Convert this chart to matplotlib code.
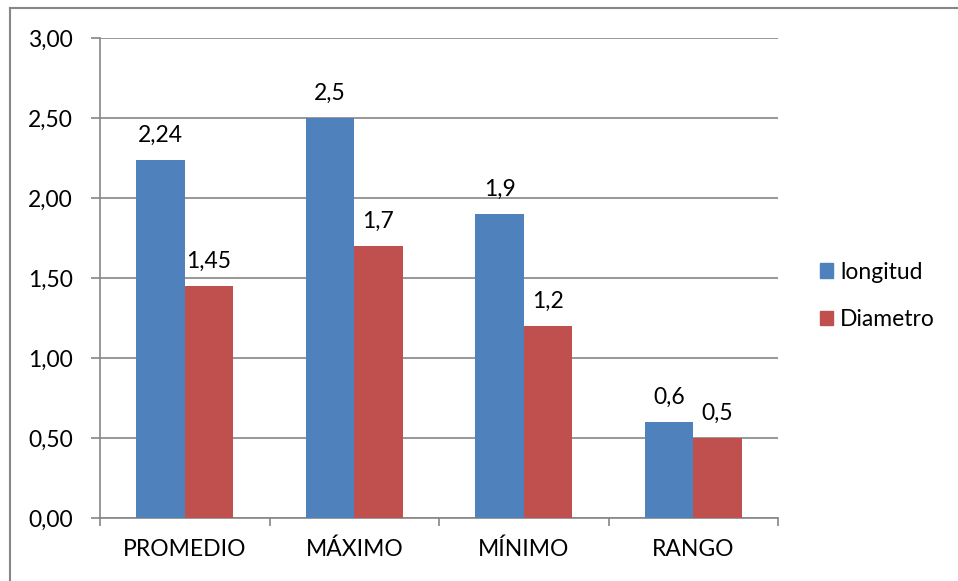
import numpy as np
import matplotlib.pyplot as plt
from matplotlib.patches import Patch
from matplotlib.lines import Line2D

categorias = ["PROMEDIO", "MÁXIMO", "MÍNIMO", "RANGO"]
longitud = [2.24, 2.5, 1.9, 0.6]
diametro = [1.45, 1.7, 1.2, 0.5]
etiq_longitud = ["2,24", "2,5", "1,9", "0,6"]
etiq_diametro = ["1,45", "1,7", "1,2", "0,5"]
y_ticks = [0, 0.5, 1.0, 1.5, 2.0, 2.5, 3.0]
y_labels = ["0,00", "0,50", "1,00", "1,50", "2,00", "2,50", "3,00"]

plt.rcParams['font.family'] = ['Lato', 'DejaVu Sans']
azul = "#4F81BD"
rojo = "#C0504D"
gris = "#868686"

W, H = 958, 581
fig = plt.figure(figsize=(W / 100, H / 100), dpi=100)
ax = fig.add_axes([100 / W, 1 - 518 / H, 678 / W, 480 / H])

x = np.arange(len(categorias))
bw = 1 / 3.5
ax.bar(x - bw / 2, longitud, bw, color=azul, zorder=3)
ax.bar(x + bw / 2, diametro, bw, color=rojo, zorder=3)

fs = 16.5
for xi, v, t in zip(x, longitud, etiq_longitud):
    ax.annotate(t, (xi - bw / 2, v), xytext=(0, 10), textcoords="offset points",
                ha="center", va="bottom", fontsize=fs)
for xi, v, t in zip(x, diametro, etiq_diametro):
    ax.annotate(t, (xi + bw / 2, v), xytext=(0, 10), textcoords="offset points",
                ha="center", va="bottom", fontsize=fs)

ax.set_xlim(-0.5, len(categorias) - 0.5)
ax.set_ylim(0, 3)
ax.set_yticks(y_ticks)
ax.set_yticklabels(y_labels, fontsize=fs)
ax.yaxis.grid(True, color=gris, linewidth=1.2, zorder=0)
ax.set_axisbelow(True)

ax.set_xticks(np.arange(len(categorias) + 1) - 0.5)
ax.set_xticklabels([])
ax.set_xticks(x, minor=True)
ax.set_xticklabels(categorias, minor=True, fontsize=fs)
ax.tick_params(axis="x", which="major", length=6, color=gris, width=1.2)
ax.tick_params(axis="x", which="minor", length=0, pad=15)
ax.tick_params(axis="y", length=6.5, color=gris, width=1.2, pad=13)

for s in ["top", "right"]:
    ax.spines[s].set_visible(False)
for s in ["left", "bottom"]:
    ax.spines[s].set_color(gris)
    ax.spines[s].set_linewidth(1.2)

handles = [Patch(color=azul, label="longitud"), Patch(color=rojo, label="Diametro")]
fig.legend(handles=handles, loc="center left", bbox_to_anchor=(799 / W, 1 - 296 / H),
           frameon=False, fontsize=fs, handlelength=0.6, handleheight=0.6,
           handletextpad=0.3, labelspacing=1.15)

# marco exterior del gráfico
fig.add_artist(Line2D([10 / W, 10 / W], [0, 1 - 8 / H], color=gris, lw=1.5))
fig.add_artist(Line2D([10 / W, 1], [1 - 8 / H, 1 - 8 / H], color=gris, lw=1.5))

fig.savefig("out.png", dpi=100)
